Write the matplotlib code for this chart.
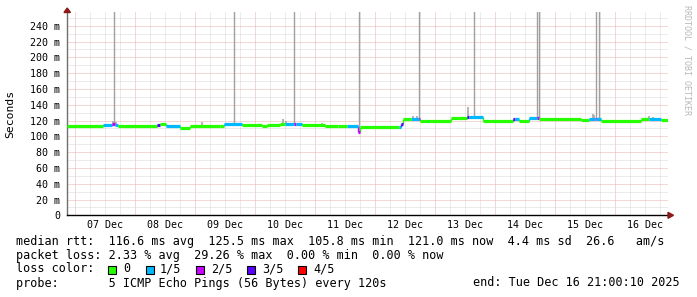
import matplotlib
matplotlib.use("Agg")
import matplotlib.pyplot as plt
import matplotlib.dates as mdates
from matplotlib.patches import Polygon, Rectangle
from datetime import datetime, timedelta
import numpy as np

# ---------------- data ----------------
start = datetime(2025, 12, 6, 21, 0, 10)
end = datetime(2025, 12, 16, 21, 0, 10)

# median rtt segments: start (hours after start), median (ms), loss (index into loss_labels)
seg_start_h = [0, 14.4, 18.0, 19.2, 20.4, 36.0, 37.2, 39.6, 45.2, 49.2,
               61.2, 62.8, 70.0, 78.0, 80.0, 85.2, 87.2, 90.8, 91.6, 94.0,
               103.2, 108.4, 112.0, 116.4, 117.2, 132.4, 133.2, 134.0, 137.2, 140.4,
               140.8, 153.2, 159.6, 160.4, 166.0, 178.0, 178.8, 180.4, 184.4, 187.6,
               188.4, 205.2, 208.4, 210.8, 211.2, 213.2, 229.2, 232.4, 237.2]
seg_median_ms = [112.5, 114.0, 115.0, 114.5, 112.5, 114.0, 115.0, 113.0, 110.5, 112.5,
                 113.5, 115.0, 114.0, 113.0, 114.0, 115.0, 115.7, 116.0, 115.5, 114.9,
                 112.8, 113.5, 112.8, 106.0, 111.5, 112.0, 116.0, 121.3, 122.0, 122.0,
                 120.0, 123.3, 124.0, 124.6, 120.0, 122.0, 122.0, 119.0, 123.0, 123.0,
                 121.5, 121.0, 122.5, 122.5, 122.0, 120.0, 121.5, 122.5, 121.0]
seg_loss = [0, 1, 2, 1, 0, 3, 0, 1, 0, 0,
            0, 1, 0, 0, 0, 0, 1, 2, 1, 0,
            0, 0, 1, 2, 0, 1, 3, 0, 1, 2,
            0, 0, 3, 1, 0, 3, 1, 0, 1, 2,
            0, 0, 1, 2, 1, 0, 0, 1, 0]

# tall smoke spikes (hours, top ms)
spike_h = [18.8, 66.8, 90.8, 116.8, 140.4, 162.4, 187.8, 188.4, 211.2, 212.4]
spike_top_ms = [300, 300, 300, 300, 300, 300, 300, 300, 300, 300]

# small smoke bits (hours, top ms)
small_smoke_h = [13.2, 18.4, 19.6, 42.4, 54.0, 86.4, 87.6, 100.4, 102.0, 138.0,
                 139.6, 160.0, 202.4, 210.0, 210.4, 232.4, 234.0]
small_smoke_top = [114.5, 119.0, 118.0, 114.5, 118.0, 122.4, 119.0, 116.0, 117.0, 126.0,
                   126.0, 137.0, 123.5, 128.0, 127.0, 126.0, 125.0]

loss_labels = ["0", "1/5", "2/5", "3/5", "4/5"]
loss_colors = ["#26ff00", "#00b8ff", "#c800ff", "#5a00ff", "#ff0000"]

day_labels = ["07 Dec", "08 Dec", "09 Dec", "10 Dec", "11 Dec",
              "12 Dec", "13 Dec", "14 Dec", "15 Dec", "16 Dec"]
ytick_vals = [0, 20, 40, 60, 80, 100, 120, 140, 160, 180, 200, 220, 240]
ytick_labels = ["0"] + ["%d m" % v for v in ytick_vals[1:]]

legend_lines = [
    "median rtt:  116.6 ms avg  125.5 ms max  105.8 ms min  121.0 ms now  4.4 ms sd  26.6   am/s",
    "packet loss: 2.33 % avg  29.26 % max  0.00 % min  0.00 % now",
]
probe_text = "probe:       5 ICMP Echo Pings (56 Bytes) every 120s"
end_text = "end: Tue Dec 16 21:00:10 2025"

# ---------------- figure ----------------
W, H = 697, 297
fig = plt.figure(figsize=(W / 100, H / 100), dpi=100)
fig.patch.set_facecolor("white")
MONO = "DejaVu Sans Mono"

ax_l, ax_r, ax_t, ax_b = 67, 668, 12.3, 215.3
ax = fig.add_axes([ax_l / W, 1 - ax_b / H, (ax_r - ax_l) / W, (ax_b - ax_t) / H])
ax.set_facecolor("white")

def hours_to_num(h):
    return mdates.date2num(start + timedelta(hours=float(h)))

x0 = mdates.date2num(start)
x1 = mdates.date2num(end)
ax.set_xlim(x0, x1)
ax.set_ylim(0, 257)

# grid
gt = start.replace(hour=0, minute=0, second=0)
while gt <= end:
    if gt >= start:
        major = gt.hour == 0
        ax.axvline(mdates.date2num(gt), color="#e8b0b0" if major else "#d8d8d8",
                   lw=0.72, ls=(0, (1, 1)), zorder=1)
    gt += timedelta(hours=6)
for v in range(10, 257, 10):
    major = v % 20 == 0
    ax.axhline(v, color="#e8b0b0" if major else "#d8d8d8", lw=0.72, ls=(0, (1, 1)), zorder=1)

# segments
seg_t0 = [hours_to_num(h) for h in seg_start_h]
seg_t1 = seg_t0[1:] + [x1]

def median_at(h):
    idx = np.searchsorted(seg_start_h, h, side="right") - 1
    return seg_median_ms[max(idx, 0)]

# smoke
for h, top in zip(spike_h, spike_top_ms):
    ax.vlines(hours_to_num(h), median_at(h), top, color="#a0a0a0", lw=1.0, zorder=2)
for h, top in zip(small_smoke_h, small_smoke_top):
    ax.vlines(hours_to_num(h), median_at(h), top, color="#a8a8a8", lw=1.2, zorder=2)

# median band
for i in range(len(seg_t0)):
    c = loss_colors[seg_loss[i]]
    if i > 0:
        ax.vlines(seg_t0[i], seg_median_ms[i - 1], seg_median_ms[i], color=c, lw=1.0, zorder=3)
    ax.hlines(seg_median_ms[i], seg_t0[i], seg_t1[i], color=c, lw=2.3, capstyle="butt", zorder=4)

# axes styling
for s in ["top", "right"]:
    ax.spines[s].set_visible(False)
ax.spines["left"].set_color("#707070")
ax.spines["left"].set_linewidth(1.0)
ax.spines["bottom"].set_color("black")
ax.spines["bottom"].set_linewidth(1.0)

ax.set_yticks(ytick_vals, labels=ytick_labels)
noon = [mdates.date2num(datetime(2025, 12, 7 + i, 12, 0, 0)) for i in range(len(day_labels))]
ax.set_xticks(noon, labels=day_labels)
ax.tick_params(axis="both", length=0, labelsize=7.2, colors="black")
ax.tick_params(axis="y", pad=5.0)
ax.tick_params(axis="x", pad=3.6)
for lab in ax.get_xticklabels() + ax.get_yticklabels():
    lab.set_family(MONO)

ax.set_ylabel("Seconds", family=MONO, fontsize=8.2)
ax.yaxis.set_label_coords(-(ax_l - 15.5) / (ax_r - ax_l), 0.5)

# arrows
def px(x, y):
    return (x / W, 1 - y / H)

fig.add_artist(Polygon([px(64, 12.5), px(70.5, 12.5), px(67.2, 8)], closed=True,
                       transform=fig.transFigure, color="#8b1a1a"))
fig.add_artist(Polygon([px(668, 212.3), px(668, 218.3), px(673.5, 215.3)], closed=True,
                       transform=fig.transFigure, color="#8b1a1a"))

# watermark
fig.text(687 / W, 1 - 5 / H, "RRDTOOL / TOBI OETIKER", rotation=270, family=MONO,
         fontsize=6, color="#b8b8b8", ha="center", va="top")

# legend text
def ftext(x, y, s, **kw):
    fig.text(x / W, 1 - y / H, s, family=MONO, fontsize=8.45, va="center", **kw)

ftext(16, 241, legend_lines[0])
ftext(16, 255, legend_lines[1])
ftext(16, 269, "loss color:")
box_x = [108, 146, 196, 247, 298]
lab_x = [123, 160, 211, 262, 313]
for bx, lx, c, lab in zip(box_x, lab_x, loss_colors, loss_labels):
    fig.add_artist(Rectangle(px(bx, 273.5), 8 / W, 8 / H, transform=fig.transFigure,
                             facecolor=c, edgecolor="black", lw=0.8))
    ftext(lx, 269, lab)
ftext(16, 283, probe_text)
ftext(680, 283, end_text, ha="right")

fig.savefig("out.png", dpi=100, facecolor="white")
